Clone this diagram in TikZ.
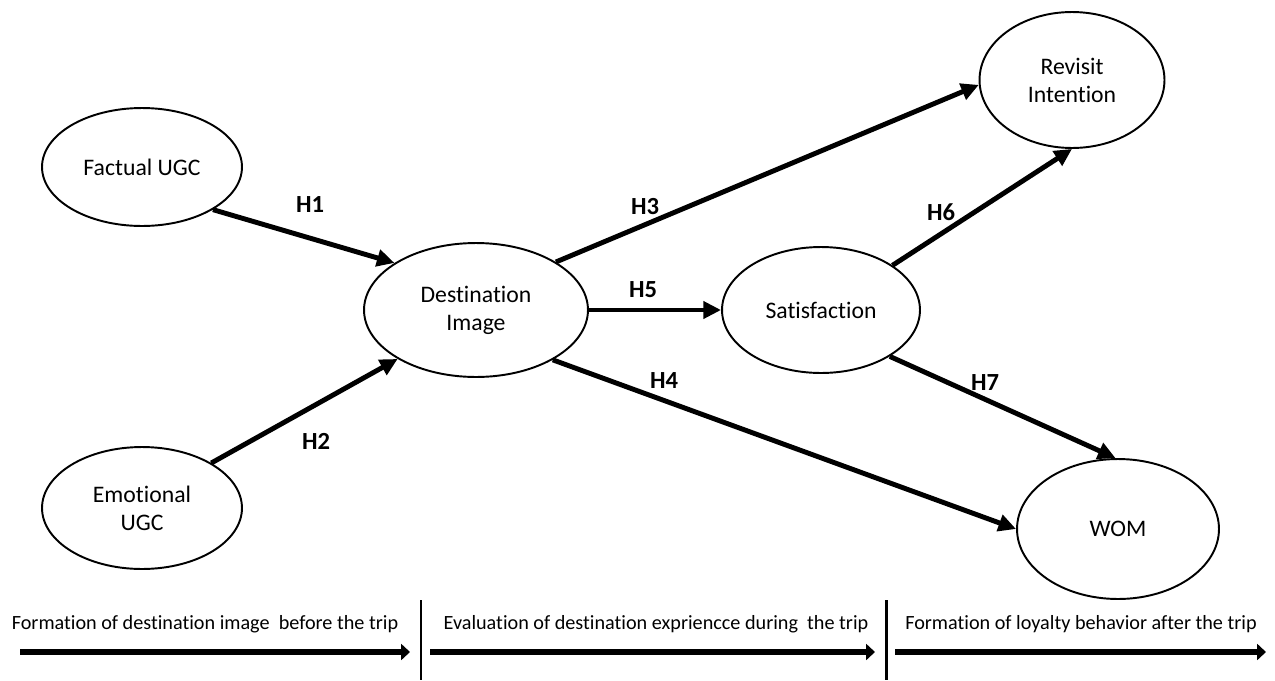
\documentclass[tikz,border=0pt]{standalone}
\usepackage{fontspec}
\setmainfont{Carlito}[Ligatures=NoCommon]
\usetikzlibrary{shapes.geometric, arrows.meta}

\begin{document}
\begin{tikzpicture}[x=0.02cm, y=-0.02cm]
    % Styles
    \tikzset{
        construct/.style={ellipse, draw, line width=1.1pt, inner sep=0pt, align=center, font=\fontsize{13.5}{16}\selectfont},
        path_arrow/.style={-{Triangle[length=10pt, width=9.5pt]}, line width=2.8pt},
        hyp/.style={font=\fontsize{14}{16}\selectfont\bfseries},
        phase_arrow/.style={-{Triangle[length=5pt, width=9pt]}, line width=3.9pt},
        phase_text/.style={font=\fontsize{11.5}{13}\selectfont},
        divider/.style={line width=1.7pt}
    }

    \useasboundingbox (0,0) rectangle (1275,680);

    % --- Constructs ---
    \node[construct, minimum width=4cm, minimum height=2.36cm] (factual) at (142,167) {Factual UGC};
    \node[construct, minimum width=4cm, minimum height=2.44cm] (emotional) at (142,508) {Emotional\\UGC};
    \node[construct, minimum width=4.48cm, minimum height=2.68cm] (dest) at (476,310) {Destination\\Image};
    \node[construct, minimum width=3.96cm, minimum height=2.52cm] (satis) at (821,310) {Satisfaction};
    \node[construct, minimum width=3.7cm, minimum height=2.72cm] (revisit) at (1072,80) {Revisit\\Intention};
    \node[construct, minimum width=4.04cm, minimum height=2.8cm] (wom) at (1118,529) {WOM};

    % --- Hypotheses ---
    \draw[path_arrow] (factual.-31) -- (dest.150);
    \draw[path_arrow] (emotional.33) -- (dest.212);
    \draw[path_arrow] (dest.31) -- (revisit.183);
    \draw[path_arrow] (dest.east) -- (satis.west);
    \draw[path_arrow] (dest.-33) -- (wom.180);
    \draw[path_arrow] (satis.32) -- (revisit.-90);
    \draw[path_arrow] (satis.-34) -- (wom.92);

    \node[hyp] (h1) at (310,205) {H1};
    \node[hyp] (h2) at (316,441) {H2};
    \node[hyp] (h3) at (645,207) {H3};
    \node[hyp] (h4) at (664,381) {H4};
    \node[hyp] (h5) at (643,290) {H5};
    \node[hyp] (h6) at (941,212) {H6};
    \node[hyp] (h7) at (985,383) {H7};

    % --- Phases ---
    \node[phase_text] (before) at (205,624) {Formation of destination image\ \ before the trip};
    \node[phase_text] (during) at (656,624) {Evaluation of destination expriencce during\ \ the trip};
    \node[phase_text] (after) at (1081,624) {Formation of loyalty behavior after the trip};

    \coordinate (b_start) at (20,652);
    \coordinate (b_end) at (410,652);
    \coordinate (d_start) at (430,652);
    \coordinate (d_end) at (875,652);
    \coordinate (a_start) at (895,652);
    \coordinate (a_end) at (1266,652);
    \draw[phase_arrow] (b_start) -- (b_end);
    \draw[phase_arrow] (d_start) -- (d_end);
    \draw[phase_arrow] (a_start) -- (a_end);

    \coordinate (sep1_top) at (421,600);
    \coordinate (sep1_bot) at (421,680);
    \coordinate (sep2_top) at (886,600);
    \coordinate (sep2_bot) at (886,680);
    \draw[divider] (sep1_top) -- (sep1_bot);
    \draw[divider] (sep2_top) -- (sep2_bot);

\end{tikzpicture}
\end{document}
